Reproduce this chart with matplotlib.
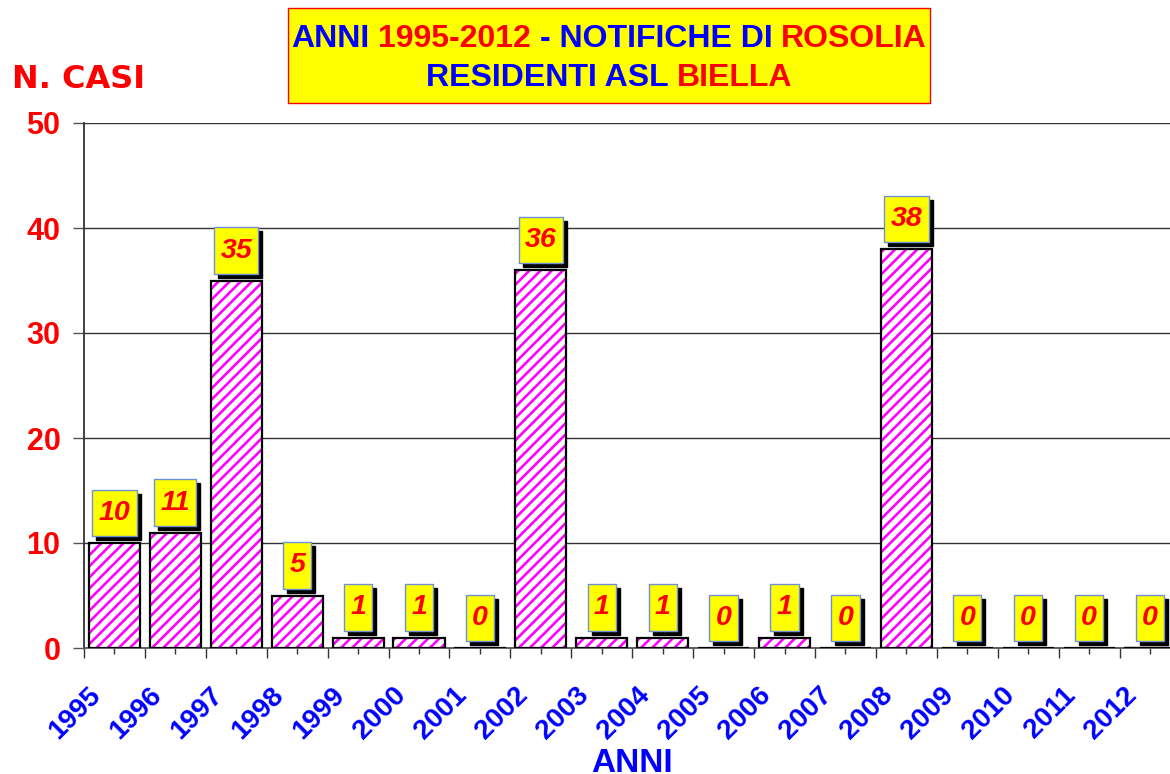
import matplotlib
matplotlib.use("Agg")
import matplotlib.pyplot as plt
import matplotlib.transforms as mtransforms
from matplotlib.patches import Rectangle
from matplotlib.path import Path
import numpy as np

years = ["1995", "1996", "1997", "1998", "1999", "2000", "2001", "2002", "2003",
         "2004", "2005", "2006", "2007", "2008", "2009", "2010", "2011", "2012"]
cases = [10, 11, 35, 5, 1, 1, 0, 36, 1, 1, 0, 1, 0, 38, 0, 0, 0, 0]
yticks = [0, 10, 20, 30, 40, 50]

title_1 = [("ANNI ", "#0000ff"), ("1995-2012 ", "#ff0000"),
           ("- NOTIFICHE DI ", "#0000ff"), ("ROSOLIA", "#ff0000")]
title_2 = [("RESIDENTI ASL ", "#0000ff"), ("BIELLA", "#ff0000")]

W, H = 1170, 774
plt.rcParams["font.family"] = ["Liberation Sans", "DejaVu Sans"]
plt.rcParams["hatch.linewidth"] = 1.9


def label_box(x0, y0, width, height, mutation_size):
    # wider vertical than horizontal padding, like the original callouts
    px, py = 0.22 * mutation_size, 0.36 * mutation_size
    return Path([(x0 - px, y0 - py), (x0 + width + px, y0 - py),
                 (x0 + width + px, y0 + height + py), (x0 - px, y0 + height + py),
                 (x0 - px, y0 - py)], closed=True)


def colored_line(fig, cx, y, parts, **kw):
    r = fig.canvas.get_renderer()
    sp = (fig.text(0, 0, "N N", **kw).get_window_extent(r).width
          - fig.text(0, 0, "NN", **kw).get_window_extent(r).width)
    for t in fig.texts[-2:]:
        t.remove()
    texts, widths = [], []
    for s, c in parts:
        t = fig.text(0, y, s.strip(), color=c, va="baseline", **kw)
        w = t.get_window_extent(r).width + (sp if s.endswith(" ") else 0)
        texts.append(t)
        widths.append(w)
    x = cx - sum(widths) / 2
    for t, w in zip(texts, widths):
        t.set_x(x / W)
        x += w


fig = plt.figure(figsize=(W / 100, H / 100), dpi=100)
ax = fig.add_axes([84 / W, 126 / H, 1096.5 / W, 525 / H])

x = np.arange(len(years))
ax.bar(x, cases, width=0.84, color="white", edgecolor="#ff00ff", hatch="///",
       linewidth=0, zorder=3)
ax.bar(x, cases, width=0.84, fill=False, edgecolor="black", linewidth=1.6, zorder=4)

for i, v in enumerate(cases):
    for dx, dy, fc, ec, tc, z in [(4, -4, "black", "black", "black", 5),
                                  (0, 0, "#ffff00", "#6f8fd8", "#ff0000", 6)]:
        ax.annotate(str(v), xy=(i, v), xytext=(dx, 17 + dy), textcoords="offset pixels",
                    ha="center", va="bottom", fontsize=20.5, fontweight="bold",
                    fontstyle="italic", color=tc, zorder=z, annotation_clip=False,
                    bbox=dict(boxstyle=label_box, fc=fc, ec=ec, lw=1))

ax.set_xlim(-0.5, len(years) - 0.5)
ax.set_ylim(0, 50)
ax.set_yticks(yticks)
ax.set_yticklabels([str(t) for t in yticks], color="#ff0000", fontsize=22,
                   fontweight="bold")
ax.tick_params(axis="y", length=8, width=1, color="#555555", pad=9)
ax.yaxis.grid(True, color="#333333", linewidth=1)
ax.set_axisbelow(True)

ax.set_xticks(np.arange(-0.5, len(years), 1))
ax.set_xticklabels([])
ax.set_xticks(x, minor=True)
ax.set_xticklabels(years, minor=True, rotation=45, ha="right", color="#0000ff",
                   fontsize=20, fontweight="bold")
ax.tick_params(axis="x", which="major", length=7, width=1, color="#333333")
ax.tick_params(axis="x", which="minor", length=4.5, width=1, color="#333333", pad=20)
shift = mtransforms.ScaledTranslation(-8 / 100, 0, fig.dpi_scale_trans)
for lab in ax.get_xticklabels(minor=True):
    lab.set_transform(lab.get_transform() + shift)

for s in ("top", "right"):
    ax.spines[s].set_visible(False)
ax.spines["left"].set_color("#333333")
ax.spines["bottom"].set_color("#555555")
ax.spines["left"].set_linewidth(1.3)
ax.spines["bottom"].set_linewidth(1.3)

fig.patches.append(Rectangle((288 / W, 1 - 103 / H), 642 / W, 95 / H,
                             transform=fig.transFigure, facecolor="#ffff00",
                             edgecolor="#ff0000", linewidth=1, zorder=0))
colored_line(fig, 609, 1 - 47 / H, title_1, fontsize=23, fontweight="bold")
colored_line(fig, 609, 1 - 86 / H, title_2, fontsize=23, fontweight="bold")

fig.text(12 / W, 1 - 88 / H, "N. CASI", color="#ff0000", fontsize=23,
         fontweight="bold", family="DejaVu Sans", va="baseline")
fig.text(632 / W, 1 - 772 / H, "ANNI", color="#0000ff", fontsize=24,
         fontweight="bold", ha="center", va="baseline")

fig.savefig("out.png", dpi=100)
